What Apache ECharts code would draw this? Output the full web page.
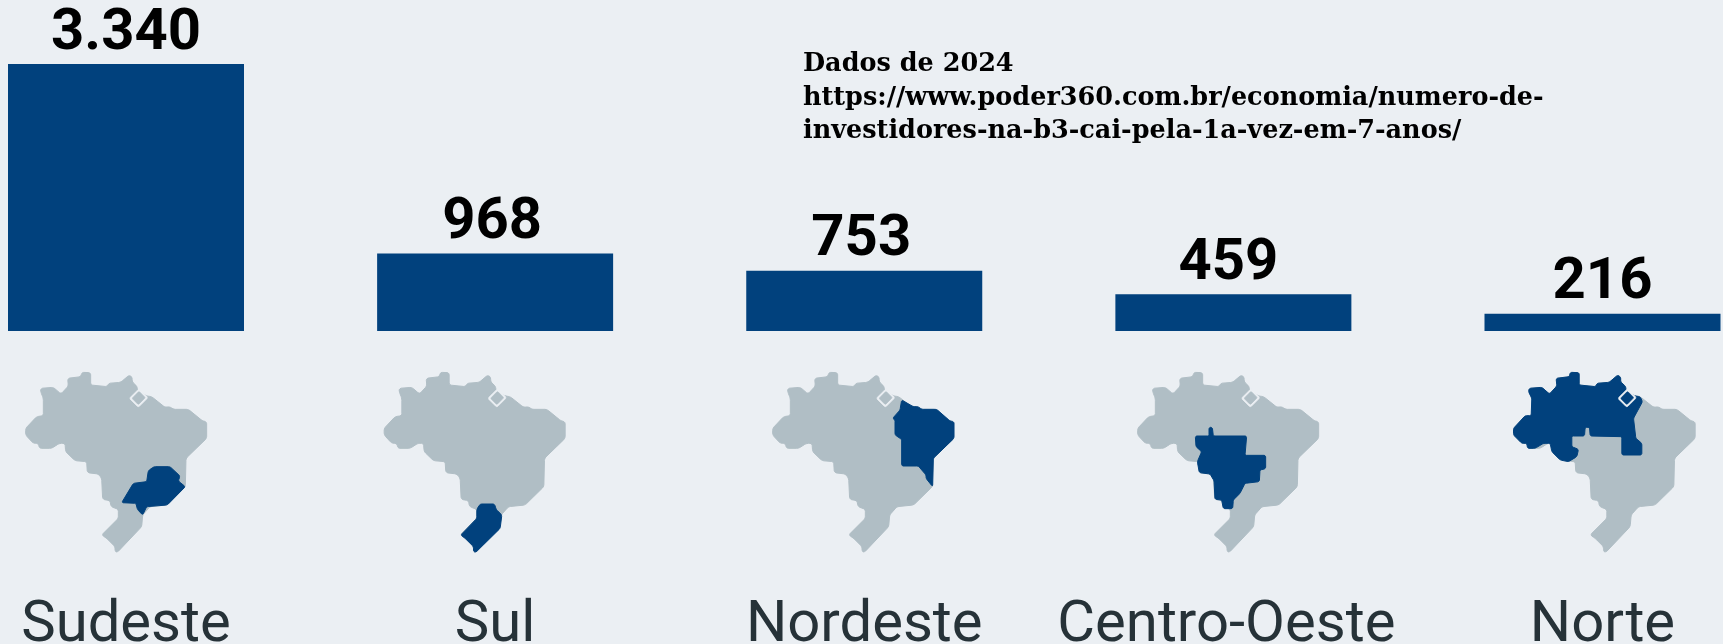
<!DOCTYPE html>
<html><head><meta charset="utf-8">
<style>html,body{margin:0;padding:0;background:#ebeff3;overflow:hidden}#c{width:1723px;height:644px}</style>
<script src="https://cdn.jsdelivr.net/npm/echarts@6/dist/echarts.min.js"></script>
</head><body><div id="c"></div>
<script>
const categories = ['Sudeste','Sul','Nordeste','Centro-Oeste','Norte'];
const values = [3340,968,753,459,216];
const note = 'Dados de 2024\nhttps://www.poder360.com.br/economia/numero-de-\ninvestidores-na-b3-cai-pela-1a-vez-em-7-anos/';
const NAVY='#01417d', GREY='#b0bec5', BG='#ebeff3', INK='#263238';
const labelNudges=[0,-3,-3,-5,0];

// Decorative map outlines, in a shared local frame
const brasil=[[122,115],[160,112],[183,132],[205,108],[203,85],[243,80],[245,67],[272,68],[272,105],[322,110],[325,100],[362,97],[388,75],[397,82],[396,95],[412,110],[412,122],[440,138],[455,140],[495,172],[510,170],[520,178],[565,178],[608,213],[620,215],[620,265],[558,325],[556,410],[500,465],[450,470],[428,495],[425,530],[352,607],[345,605],[345,590],[320,565],[305,555],[355,505],[355,478],[333,470],[330,452],[308,448],[305,385],[295,372],[262,368],[260,335],[225,332],[197,305],[195,280],[178,280],[155,295],[118,295],[115,280],[100,280],[77,255],[77,235],[110,200],[130,197],[130,145],[122,125]];
const sudeste=[[462,350],[510,350],[540,378],[535,393],[556,410],[502,465],[440,470],[428,495],[412,478],[408,460],[365,458],[400,400],[440,395],[445,362]];
const sul=[[365,462],[408,462],[413,478],[430,495],[425,535],[352,607],[345,605],[345,590],[320,565],[307,555],[355,505],[355,478]];
const nordeste=[[464,150],[499,170],[514,170],[524,178],[569,178],[609,213],[621,215],[621,265],[559,325],[557,410],[537,385],[537,375],[514,348],[464,348],[464,268],[444,255],[444,210],[437,205],[459,180]];
const centro=[[291,232],[301,232],[304,258],[404,258],[399,316],[461,316],[461,356],[444,360],[442,395],[399,400],[384,430],[364,450],[362,476],[334,476],[329,450],[309,448],[306,392],[294,372],[262,368],[256,335],[269,305],[252,290],[250,258],[291,258]];
const norte=[[122,115],[160,112],[183,132],[205,108],[203,85],[243,80],[245,67],[272,68],[272,105],[322,110],[325,100],[362,97],[388,75],[397,82],[396,95],[412,110],[412,122],[440,138],[455,140],[462,155],[435,205],[442,265],[460,280],[460,315],[400,315],[400,260],[305,258],[303,232],[290,232],[288,258],[250,258],[250,290],[270,298],[265,320],[240,335],[215,330],[190,305],[185,280],[165,280],[140,295],[117,295],[115,280],[100,280],[75,255],[75,235],[110,197],[128,197],[130,145],[120,125]];
const highlights=[sudeste,sul,nordeste,centro,norte];
const mapOffsets=[0,358.5,747,1112,1488.5];
const diamondOuter=[[417,116],[444,143],[415,172],[388,145]];
const diamondInner=[[417,124],[436,143],[415,164],[396,145]];

// Soften each outline's corners
function rounded(pts,cut,passes){
  let out=pts;
  for(let k=0;k<passes;k++){
    const next=[];
    out.forEach((p,i)=>{
      const a=out[(i+out.length-1)%out.length], b=out[(i+1)%out.length];
      [a,b].forEach(q=>{
        const d=Math.hypot(q[0]-p[0],q[1]-p[1])||1, t=Math.min(cut,d*0.45)/d;
        next.push([p[0]+(q[0]-p[0])*t,p[1]+(q[1]-p[1])*t]);
      });
    });
    out=next; cut=cut/2;
  }
  return out;
}
function poly(points,fill,sw,cut){
  return {type:'polygon',shape:{points:rounded(points,cut,2)},style:{fill:fill,stroke:fill,lineWidth:sw,lineJoin:'round'}};
}
const maps=highlights.map((h,i)=>({
  type:'group',x:mapOffsets[i],y:350,scaleX:1/3,scaleY:1/3,silent:true,
  children:[
    poly(brasil,GREY,3,4),
    poly(h,NAVY,3,3),
    poly(diamondOuter,BG,2,3),
    poly(diamondInner,i===4?NAVY:GREY,2,2)
  ]
}));

const chart=echarts.init(document.getElementById('c'));
chart.setOption({
  backgroundColor:BG,
  animation:false,
  title:{text:note,left:803,top:48,padding:0,textStyle:{fontFamily:'DejaVu Serif',fontWeight:'bold',fontSize:25.5,lineHeight:33.5,color:'#000'}},
  grid:{left:126,right:120.5,top:64,bottom:313,containLabel:false,outerBoundsMode:'none'},
  xAxis:{type:'category',data:categories,boundaryGap:false,axisLine:{show:false},axisTick:{show:false},
    axisLabel:{interval:0,margin:266,fontFamily:'Roboto',fontSize:58,color:INK,hideOverlap:false,alignMinLabel:'center',alignMaxLabel:'center',
      formatter:v=>v==='Centro-Oeste'?'{s|'+v+'}':v,
      rich:{s:{fontFamily:'Roboto',fontSize:58,color:INK,padding:[0,14,0,0]}}}},
  yAxis:{type:'value',min:0,max:3340,show:false,splitLine:{show:false}},
  series:[{type:'bar',clip:false,barWidth:236,itemStyle:{color:NAVY},
    data:values.map((v,i)=>({value:v,label:{offset:[labelNudges[i],0]}})),
    label:{show:true,position:'top',distance:1,fontFamily:'Roboto',fontWeight:'bold',fontSize:58,color:'#000',
      formatter:p=>p.value.toLocaleString('pt-BR')}}],
  graphic:maps
});
</script></body></html>
